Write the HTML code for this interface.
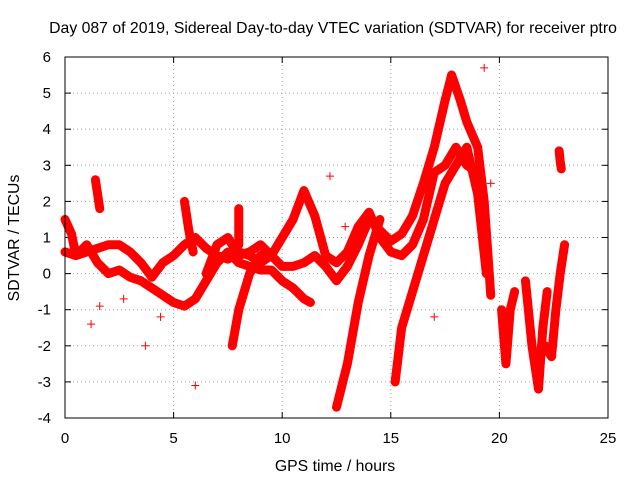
<!DOCTYPE html>
<html><head><meta charset="utf-8"><style>
body{margin:0;background:#fff}
svg{display:block;font-family:"Liberation Sans",sans-serif}
</style></head><body>
<svg id="c" width="640" height="480">
<rect width="640" height="480" fill="#fff"/>
<text x="333" y="33" font-size="15.8" text-anchor="middle">Day 087 of 2019, Sidereal Day-to-day VTEC variation (SDTVAR) for receiver ptro</text>
<text x="335" y="471" font-size="15.8" text-anchor="middle">GPS time / hours</text>
<text transform="translate(19,238) rotate(-90)" font-size="15.8" text-anchor="middle">SDTVAR / TECUs</text>
<g id="grid"></g><g id="ticks"></g><g id="marks"></g>
<rect x="65" y="57" width="543" height="361" fill="none" stroke="#000"/>
</svg>
<script>
const xTicks=[0,5,10,15,20,25];
const yTicks=[-4,-3,-2,-1,0,1,2,3,4,5,6];
const track1=[[0,0.6],[0.5,0.5],[1,0.6],[1.5,0.7],[2,0.8],[2.5,0.8],[3,0.6],[3.5,0.3],[4,-0.1],[4.5,0.3],[5,0.5],[5.5,0.8],[6,1.0],[6.5,0.7],[7,0.5],[7.5,0.4],[8,0.6],[8.5,0.5],[9,0.3],[9.5,0.5],[10,0.2],[10.5,0.2],[11,0.3],[11.5,0.5],[12,0.2],[12.5,-0.2],[13,0.2],[13.5,0.8],[14,1.5],[14.5,1.2],[15,0.9],[15.5,1.1],[16,1.6],[16.5,2.5],[17,3.5],[17.5,4.8],[17.8,5.5],[18.2,4.8],[18.5,4.2],[19,3.5],[19.3,2],[19.5,0.3],[19.6,-0.6]];
const track2=[[0,1.5],[0.3,1.1],[0.5,0.5],[1,0.8],[1.5,0.3],[2,0],[2.5,0.1],[3,-0.1],[3.5,-0.2],[4,-0.4],[4.5,-0.6],[5,-0.8],[5.5,-0.9],[6,-0.7],[6.5,-0.2],[7,0.3],[7.5,0.6],[8,0.3],[8.5,0.2],[9,0.1],[9.5,0.1],[10,-0.2],[10.5,-0.4],[11,-0.7],[11.3,-0.8]];
const track3=[[6.5,0],[7,0.8],[7.5,1.0],[8,0.5],[8.5,0.6],[9,0.8],[9.5,0.5],[10,1.0],[10.5,1.5],[11,2.3],[11.5,1.6],[12,0.5],[12.5,0.3],[13,0.6],[13.5,1.3],[14,1.7],[14.5,1.0],[15,0.6],[15.5,0.5],[16,0.8],[16.5,1.5],[17,2.8],[17.5,3.0],[18,3.5],[18.5,3.0],[19,2.8],[19.3,1.5]];
const track4=[[7.7,-2.0],[8,-1.0],[8.5,0],[9,0.5]];
const track5=[[12.5,-3.7],[13,-2.5],[13.5,-0.8],[14,0.5],[14.5,1.5]];
const track6=[[15.2,-3.0],[15.5,-1.5],[16,-0.5],[16.5,0.5],[17,1.5],[17.5,2.5],[18,3.0],[18.5,3.5],[19,2.2],[19.4,0]];
const track7=[[20.1,-1.0],[20.3,-2.5],[20.5,-1.0],[20.7,-0.5]];
const track8=[[21.2,-0.2],[21.5,-2.0],[21.8,-3.2],[22,-1.5],[22.2,-0.5]];
const track9=[[22.1,-2.0],[22.4,-2.3],[22.6,-1.0],[22.8,0],[23,0.8]];
const track10=[[1.4,2.6],[1.5,2.2],[1.6,1.8]];
const track11=[[5.5,2.0],[5.7,1.2],[5.9,0.6]];
const track12=[[22.75,3.4],[22.8,3.1],[22.85,2.9]];
const track13=[[8,1.8],[8,1.2],[8,0.8]];
const tracks=[track1,track2,track3,track4,track5,track6,track7,track8,track9,track10,track11,track12,track13];
const outliers=[[6,-3.1],[3.7,-2.0],[19.3,5.7],[12.9,1.3],[12.2,2.7],[1.2,-1.4],[1.6,-0.9],[2.7,-0.7],[4.4,-1.2],[19.6,2.5],[17,-1.2]];
const X=v=>65+v*543/25, Y=v=>418-(v+4)*36.1;
const NS="http://www.w3.org/2000/svg";
const g=document.getElementById('grid'),t=document.getElementById('ticks'),m=document.getElementById('marks');
function mk(tag,at,p){const e=document.createElementNS(NS,tag);for(const k in at)e.setAttribute(k,at[k]);p.appendChild(e);return e;}
xTicks.forEach(v=>{
 if(v>0&&v<25){const l=mk('line',{x1:X(v),x2:X(v),y1:57,y2:418,stroke:'#a0a0a0','stroke-dasharray':'1,3'},g);
 
 }
 mk('line',{x1:X(v),x2:X(v),y1:418,y2:412,stroke:'#000'},t);
 mk('line',{x1:X(v),x2:X(v),y1:57,y2:63,stroke:'#000'},t);
 const s=mk('text',{x:X(v),y:443,'font-size':15,'text-anchor':'middle'},t);s.textContent=v;
 
 
});
yTicks.forEach(v=>{
 if(v>-4&&v<6){const l=mk('line',{x1:65,x2:608,y1:Y(v),y2:Y(v),stroke:'#a0a0a0','stroke-dasharray':'1,3'},g);
 
 }
 mk('line',{x1:65,x2:71,y1:Y(v),y2:Y(v),stroke:'#000'},t);
 mk('line',{x1:602,x2:608,y1:Y(v),y2:Y(v),stroke:'#000'},t);
 const s=mk('text',{x:51,y:Y(v)+5,'font-size':15,'text-anchor':'end'},t);s.textContent=v;
 
 
});
function plus(x,y){
 const pm=mk('path',{d:`M${x-4},${y}h8M${x},${y-4}v8`,stroke:'#ff0000','stroke-width':1},m);
 
 
}
tracks.forEach((tr,i)=>{
 const pts=tr.map(p=>X(p[0])+','+Y(p[1])).join(' ');
 const pl=mk('polyline',{points:pts,fill:'none',stroke:'#ff0000','stroke-width':9,'stroke-linejoin':'round','stroke-linecap':'round'},m);
 
 
 tr.forEach(p=>plus(X(p[0]),Y(p[1])));
});
outliers.forEach(p=>plus(X(p[0]),Y(p[1])));
</script>
</body></html>
